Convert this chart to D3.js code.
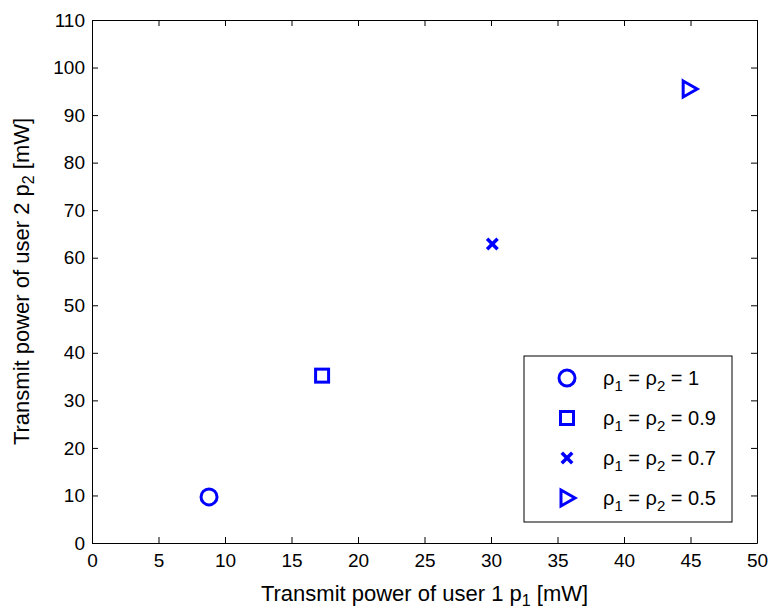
<!DOCTYPE html>
<html>
<head>
<meta charset="utf-8">
<script src="https://cdn.jsdelivr.net/npm/d3@7"></script>
<style>
  body { margin: 0; background: #fff; overflow: hidden; }
  svg { display: block; }
  text { font-family: "Liberation Sans", Arial, sans-serif; }
</style>
</head>
<body>
<div id="chart"></div>
<script>
// data
const labels = ["1", "0.9", "0.7", "0.5"];
const symbols = ["circle", "square", "cross", "triangle"];
const p1 = [8.8, 17.3, 30.1, 44.9];
const p2 = [9.7, 35.2, 62.9, 95.5];
const xTicks = d3.range(0, 51, 5);
const yTicks = d3.range(0, 111, 10);

const width = 771, height = 614;
const margin = { top: 20, right: 14, bottom: 71, left: 92 };
const innerWidth = width - margin.left - margin.right;
const innerHeight = height - margin.top - margin.bottom;

const svg = d3.select("#chart").append("svg")
    .attr("width", width)
    .attr("height", height);

const g = svg.append("g")
    .attr("transform", `translate(${margin.left},${margin.top})`);

const xScale = d3.scaleLinear().domain([0, 50]).range([0, innerWidth]);
const yScale = d3.scaleLinear().domain([0, 110]).range([innerHeight, 0]);

// axes, ticks pointing inward like matlab
const tickLen = 6;
g.append("g")
    .attr("transform", `translate(0,${innerHeight})`)
    .call(d3.axisBottom(xScale).tickValues(xTicks).tickSizeInner(-tickLen).tickSizeOuter(0).tickPadding(11))
    .call(a => a.attr("font-size", 19).selectAll("text").attr("fill", "#000"));
g.append("g")
    .call(d3.axisLeft(yScale).tickValues(yTicks).tickSizeInner(-tickLen).tickSizeOuter(0).tickPadding(7))
    .call(a => a.attr("font-size", 19).selectAll("text").attr("fill", "#000"));
// top and right box with ticks only
g.append("g")
    .call(d3.axisTop(xScale).tickValues(xTicks).tickSizeInner(-tickLen).tickSizeOuter(0))
    .call(a => a.selectAll("text").remove());
g.append("g")
    .attr("transform", `translate(${innerWidth},0)`)
    .call(d3.axisRight(yScale).tickValues(yTicks).tickSizeInner(-tickLen).tickSizeOuter(0))
    .call(a => a.selectAll("text").remove());

g.selectAll(".domain").attr("stroke", "#000");
g.selectAll(".tick line").attr("stroke", "#000");

// marker shapes
function marker(sel, type) {
    const blue = "#0000ff";
    if (type === "circle") {
        sel.append("circle").attr("r", 8).attr("fill", "none").attr("stroke", blue).attr("stroke-width", 3);
    } else if (type === "square") {
        sel.append("rect").attr("x", -6.5).attr("y", -6.5).attr("width", 13).attr("height", 13)
            .attr("fill", "none").attr("stroke", blue).attr("stroke-width", 3);
    } else if (type === "cross") {
        sel.append("path").attr("d", "M-4,-4L4,4M-4,4L4,-4")
            .attr("stroke", blue).attr("stroke-width", 3.5).attr("stroke-linecap", "square");
    } else {
        sel.append("path").attr("d", "M-6,-8L8,0L-6,8Z")
            .attr("fill", "none").attr("stroke", blue).attr("stroke-width", 3).attr("stroke-linejoin", "miter");
    }
}

labels.forEach((l, i) => {
    const m = g.append("g")
        .attr("transform", `translate(${xScale(p1[i])},${yScale(p2[i])})`);
    marker(m, symbols[i]);
});

// legend
const legend = svg.append("g").attr("transform", "translate(524,356)");
legend.append("rect")
    .attr("width", 208).attr("height", 166)
    .attr("fill", "#fff").attr("stroke", "#000").attr("stroke-width", 1);

labels.forEach((l, i) => {
    const row = legend.append("g").attr("transform", `translate(43,${22 + i * 40})`);
    marker(row, symbols[i]);
    const t = row.append("text")
        .attr("x", 36).attr("y", 7)
        .attr("font-size", 20).attr("fill", "#000");
    t.append("tspan").text("ρ");
    t.append("tspan").attr("dy", 6).attr("font-size", 15).text("1");
    t.append("tspan").attr("dy", -6).text(" = ρ");
    t.append("tspan").attr("dy", 6).attr("font-size", 15).text("2");
    t.append("tspan").attr("dy", -6).text(" = " + l);
});

// axis titles
const xt = svg.append("text")
    .attr("text-anchor", "middle")
    .attr("x", margin.left + innerWidth / 2)
    .attr("y", 601)
    .attr("font-size", 22).attr("fill", "#000");
xt.append("tspan").text("Transmit power of user 1 p");
xt.append("tspan").attr("dy", 5).attr("font-size", 16).text("1");
xt.append("tspan").attr("dy", -5).text(" [mW]");

const yt = svg.append("text")
    .attr("text-anchor", "middle")
    .attr("transform", `translate(29,${margin.top + innerHeight / 2}) rotate(-90)`)
    .attr("font-size", 22).attr("fill", "#000");
yt.append("tspan").text("Transmit power of user 2 p");
yt.append("tspan").attr("dy", 5).attr("font-size", 16).text("2");
yt.append("tspan").attr("dy", -5).text(" [mW]");
</script>
</body>
</html>
